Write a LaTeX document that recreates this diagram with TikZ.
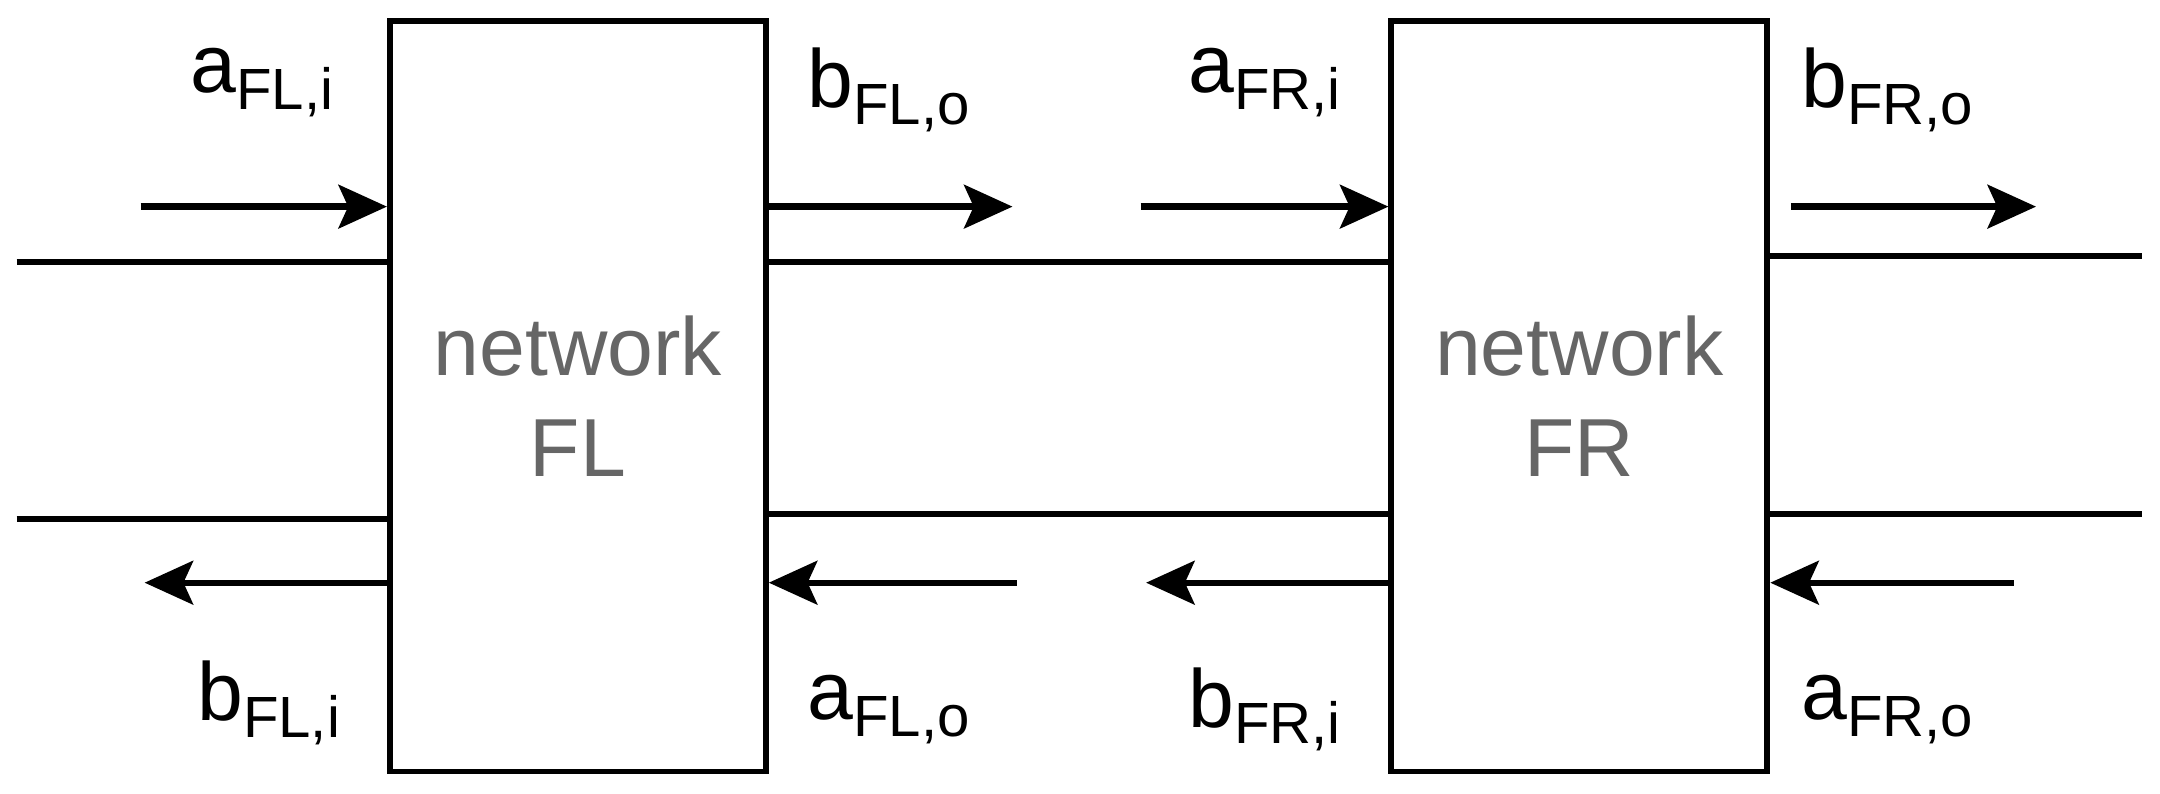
\documentclass[tikz,border=0pt]{standalone}
\usepackage{fontspec}
\setmainfont{Liberation Sans}
\usetikzlibrary{arrows.meta}
\newcommand{\lbl}[2]{#1{\fontsize{12}{12}\selectfont\raisebox{-0.55ex}{#2}}}
\begin{document}
\begin{tikzpicture}[x=0.01cm,y=-0.01cm,
  box/.style={draw,line width=1.2pt,minimum width=273*0.01cm,minimum height=545*0.01cm,inner sep=0pt,align=center,text=black!60,font=\fontsize{17}{21}\selectfont},
  wire/.style={line width=1.2pt},
  sig/.style={line width=1.3pt,-{Stealth[length=10pt,width=9pt,inset=2pt]}},
  lab/.style={font=\fontsize{17}{17}\selectfont,inner sep=0pt}]
\useasboundingbox (0,0) rectangle (1568,576);
\node[box] (FL) at (419.5,287.5) {network\\FL};
\node[box] (FR) at (1146.5,287.5) {network\\FR};
\coordinate (l1) at (12,190); \coordinate (l2) at (12,377);
\coordinate (r1) at (1555,186); \coordinate (r2) at (1555,373);
\draw[wire] (l1) -- (FL.west |- l1);
\draw[wire] (l2) -- (FL.west |- l2);
\draw[wire] (FL.east |- 0,190) -- (FR.west |- 0,190);
\draw[wire] (FL.east |- 0,373) -- (FR.west |- 0,373);
\draw[wire] (FR.east |- r1) -- (r1);
\draw[wire] (FR.east |- r2) -- (r2);
% arrows
\coordinate (a1s) at (102,150); \coordinate (a2e) at (735,150);
\coordinate (a3s) at (828,150); \coordinate (a4s) at (1300,150); \coordinate (a4e) at (1478,150);
\coordinate (b1e) at (105,423); \coordinate (b2s) at (738,423);
\coordinate (b3e) at (832,423); \coordinate (b4s) at (1462,423);
\draw[sig] (a1s) -- (FL.west |- a1s);
\draw[sig] (FL.east |- a2e) -- (a2e);
\draw[sig] (a3s) -- (FR.west |- a3s);
\draw[sig] (a4s) -- (a4e);
\draw[sig] (FL.west |- b1e) -- (b1e);
\draw[sig] (b2s) -- (FL.east |- b2s);
\draw[sig] (FR.west |- b3e) -- (b3e);
\draw[sig] (b4s) -- (FR.east |- b4s);
% labels
\node[lab] (t1) at (190,60) {\lbl{a}{FL,i}};
\node[lab] (t2) at (645,65) {\lbl{b}{FL,o}};
\node[lab] (t3) at (918,60) {\lbl{a}{FR,i}};
\node[lab] (t4) at (1370,65) {\lbl{b}{FR,o}};
\node[lab] (t5) at (195,510) {\lbl{b}{FL,i}};
\node[lab] (t6) at (645,515) {\lbl{a}{FL,o}};
\node[lab] (t7) at (918,515) {\lbl{b}{FR,i}};
\node[lab] (t8) at (1370,515) {\lbl{a}{FR,o}};
\end{tikzpicture}
\end{document}
